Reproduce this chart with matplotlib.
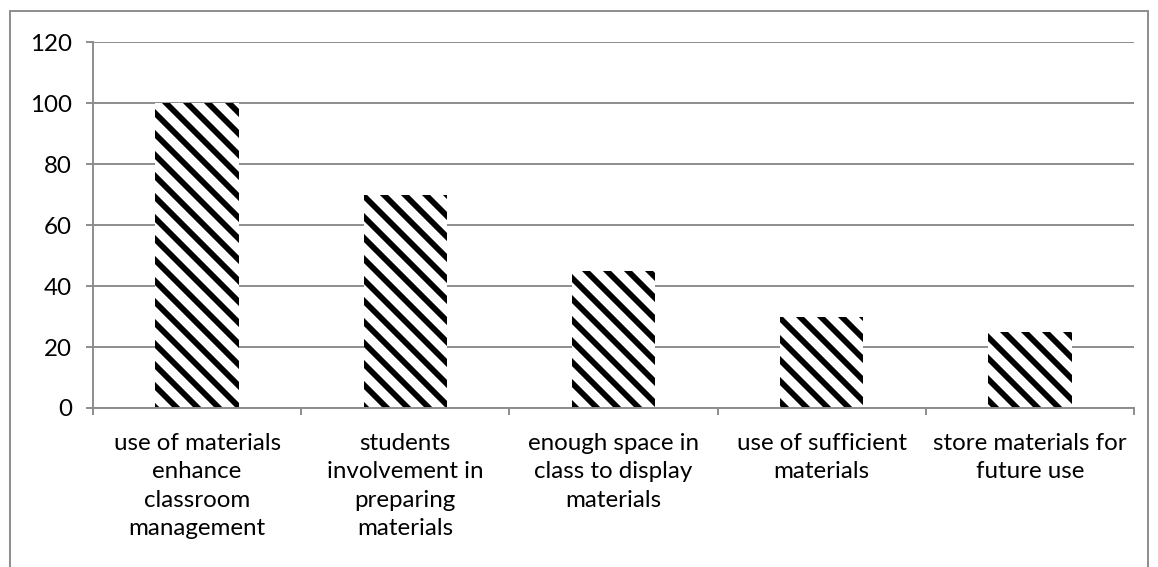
import matplotlib.pyplot as plt
from matplotlib.patches import Rectangle

categories = ["use of materials\nenhance\nclassroom\nmanagement",
              "students\ninvolvement in\npreparing\nmaterials",
              "enough space in\nclass to display\nmaterials",
              "use of sufficient\nmaterials",
              "store materials for\nfuture use"]
values = [100, 70, 45, 30, 25]
yticks = [0, 20, 40, 60, 80, 100, 120]

plt.rcParams['font.family'] = ['Lato', 'DejaVu Sans']
plt.rcParams['hatch.linewidth'] = 3.3

DPI = 126
fig = plt.figure(figsize=(1158 / DPI, 567 / DPI), dpi=DPI)
ax = fig.add_axes([93 / 1158, 159 / 567, (1134 - 93) / 1158, (408 - 42) / 567])

pos = list(range(len(categories)))
ax.bar(pos, values, width=0.4, color='white', edgecolor='black', linewidth=0,
       hatch='\\\\', zorder=3)

ax.set_xlim(-0.5, len(categories) - 0.5)
ax.set_ylim(0, 120)
ax.set_yticks(yticks)
ax.yaxis.grid(True, color='#8c8c8c', linewidth=1.1)
ax.set_axisbelow(True)

grey = '#8c8c8c'
for side in ['top', 'right']:
    ax.spines[side].set_visible(False)
for side in ['left', 'bottom']:
    ax.spines[side].set_color(grey)
    ax.spines[side].set_linewidth(1.1)
    ax.spines[side].set_zorder(4)

ax.set_xticks(pos)
ax.set_xticklabels(categories, fontsize=13.8, linespacing=1.45)
ax.set_xticks([p - 0.5 for p in pos] + [len(pos) - 0.5], minor=True)
ax.tick_params(axis='x', which='major', length=0, pad=14)
ax.tick_params(axis='x', which='minor', length=4, color=grey, width=1.1)
ax.tick_params(axis='y', length=4, color=grey, width=1.1, labelsize=13.8, pad=8)

# outer frame, open at the bottom
fig.patches.append(Rectangle((10 / 1158, -0.05), (1148 - 10) / 1158, 1.05 - 11 / 567,
                             transform=fig.transFigure, fill=False,
                             edgecolor=grey, linewidth=1.1))

fig.savefig('out.png', dpi=DPI)
